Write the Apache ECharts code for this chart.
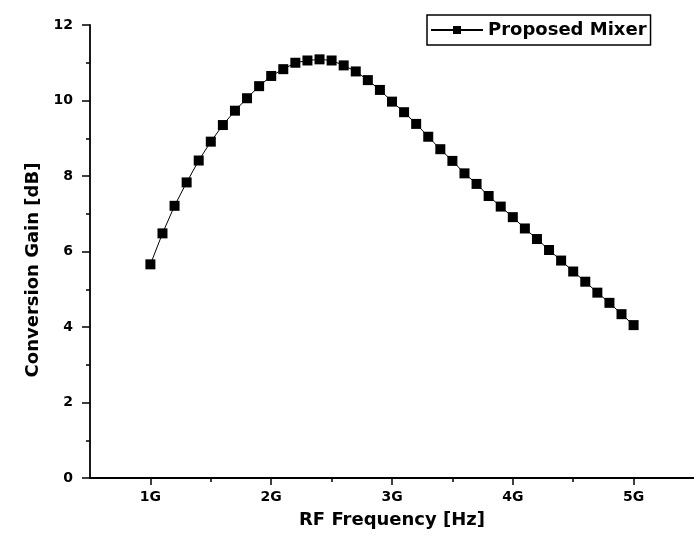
<!DOCTYPE html>
<html>
<head>
<meta charset="utf-8">
<script src="https://cdn.jsdelivr.net/npm/echarts@6/dist/echarts.min.js"></script>
<style>html,body{margin:0;padding:0;background:#fff;}#c{width:694px;height:553px;}</style>
</head>
<body>
<div id="c"></div>
<script>
var freqGHz = [1.0,1.1,1.2,1.3,1.4,1.5,1.6,1.7,1.8,1.9,2.0,2.1,2.2,2.3,2.4,2.5,2.6,2.7,2.8,2.9,3.0,3.1,3.2,3.3,3.4,3.5,3.6,3.7,3.8,3.9,4.0,4.1,4.2,4.3,4.4,4.5,4.6,4.7,4.8,4.9,5.0];
var gainDb = [5.66,6.48,7.21,7.83,8.41,8.91,9.35,9.73,10.06,10.38,10.65,10.83,11.00,11.06,11.09,11.06,10.93,10.77,10.54,10.28,9.97,9.69,9.38,9.04,8.71,8.40,8.07,7.79,7.47,7.19,6.91,6.61,6.33,6.04,5.76,5.47,5.20,4.91,4.64,4.34,4.05];
var xMajorTicks = [1,2,3,4,5];
var xMinorTicks = [1.5,2.5,3.5,4.5];
var seriesName = 'Proposed Mixer';
var xTitle = 'RF Frequency [Hz]';
var yTitle = 'Conversion Gain [dB]';

var pts = freqGHz.map(function(f,i){return [f, gainDb[i]];});
var chart = echarts.init(document.getElementById('c'), null, {renderer:'canvas'});
var fontD = '"DejaVu Sans", sans-serif';
chart.setOption({
  backgroundColor:'#fff',
  animation:false,
  grid:{left:90, top:25, width:606, bottom:75, containLabel:false},
  legend:{
    data:[seriesName], left:427, top:15,
    borderColor:'#000', borderWidth:1.5, borderRadius:0,
    padding:[6,4,6,3], itemWidth:52, itemHeight:10, itemGap:5,
    textStyle:{color:'#000', fontWeight:'bold', fontSize:18, fontFamily:fontD}
  },
  xAxis:[{
    type:'value', min:0.5, max:5.5,
    name:xTitle, nameLocation:'middle', nameGap:33,
    nameTextStyle:{color:'#000', fontWeight:'bold', fontSize:18, fontFamily:fontD},
    axisLine:{lineStyle:{color:'#000', width:1.8}},
    axisTick:{show:true, customValues:xMajorTicks, length:7, lineStyle:{color:'#000', width:1.5}},
    axisLabel:{customValues:xMajorTicks, color:'#000', fontWeight:'bold', fontSize:14, fontFamily:fontD, margin:12,
      formatter:function(v){return Math.round(v)+'G';}},
    splitLine:{show:false}
  },{
    type:'value', min:0.5, max:5.5, position:'bottom',
    axisLine:{show:false},
    axisTick:{show:true, customValues:xMinorTicks, length:4, lineStyle:{color:'#000', width:1.5}},
    axisLabel:{show:false},
    splitLine:{show:false}
  }],
  yAxis:{
    type:'value', min:0, max:12, interval:2,
    axisLine:{show:true, lineStyle:{color:'#000', width:1.8}},
    axisTick:{show:true, length:8, lineStyle:{color:'#000', width:1.5}},
    minorTick:{show:true, splitNumber:2, length:4, lineStyle:{color:'#000', width:1.5}},
    axisLabel:{color:'#000', fontWeight:'bold', fontSize:14, fontFamily:fontD, margin:17},
    splitLine:{show:false}
  },
  graphic:[{
    type:'text', x:33, y:270, rotation:Math.PI/2,
    style:{text:yTitle, fill:'#000', font:'bold 18px "DejaVu Sans", sans-serif', align:'center', verticalAlign:'middle'}
  }],
  series:[{
    name:seriesName, type:'line', xAxisIndex:0, data:pts,
    symbol:'rect', symbolSize:10, showSymbol:true,
    lineStyle:{color:'#000', width:1},
    itemStyle:{color:'#000'}
  }]
});
</script>
</body>
</html>
